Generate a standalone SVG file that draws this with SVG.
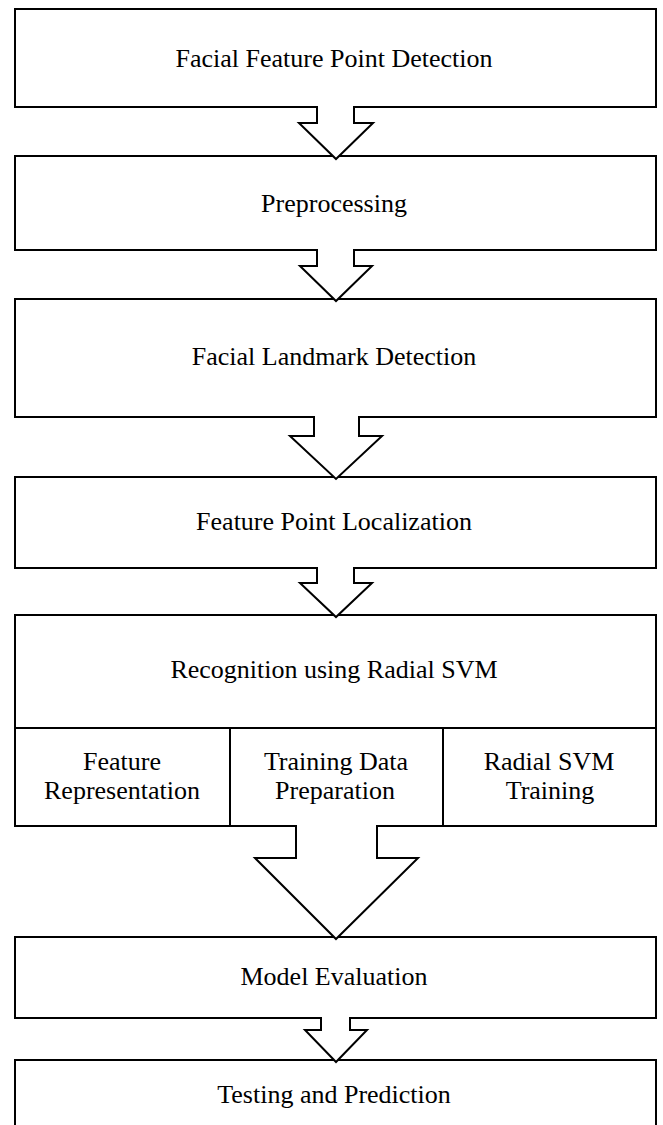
<svg xmlns="http://www.w3.org/2000/svg" width="663" height="1125" viewBox="0 0 663 1125">
<style>
.box{fill:#fff;stroke:#000;stroke-width:2}
.ln{stroke:#000;stroke-width:2;fill:none}
.arr{fill:#fff;stroke:#000;stroke-width:2;stroke-linejoin:miter}
text{font-family:"Liberation Serif","Times New Roman",serif;font-size:26px;fill:#000;text-anchor:middle}
</style>
<rect width="663" height="1125" fill="#fff"/>
<g id="n1"><rect class="box" x="15" y="9" width="641" height="98"/><text x="334" y="67">Facial Feature Point Detection</text></g>
<g id="n2"><rect class="box" x="15" y="156" width="641" height="94"/><text x="334" y="212">Preprocessing</text></g>
<g id="n3"><rect class="box" x="15" y="299" width="641" height="118"/><text x="334" y="365">Facial Landmark Detection</text></g>
<g id="n4"><rect class="box" x="15" y="477" width="641" height="91"/><text x="334" y="530">Feature Point Localization</text></g>
<g id="n5"><rect class="box" x="15" y="615" width="641" height="211"/><line class="ln" x1="15" y1="728" x2="656" y2="728"/><line class="ln" x1="230" y1="728" x2="230" y2="826"/><line class="ln" x1="443" y1="728" x2="443" y2="826"/><text x="334" y="678">Recognition using Radial SVM</text></g>
<g id="n5a"><text x="122" y="770">Feature</text><text x="122" y="799">Representation</text></g>
<g id="n5b"><text x="336" y="770">Training Data</text><text x="335" y="799">Preparation</text></g>
<g id="n5c"><text x="549" y="770">Radial SVM</text><text x="550" y="799">Training</text></g>
<g id="n6"><rect class="box" x="15" y="937" width="641" height="81"/><text x="334" y="985">Model Evaluation</text></g>
<g id="n7"><rect class="box" x="15" y="1060" width="641" height="90"/><text x="334" y="1103">Testing and Prediction</text></g>
<g id="connectors">
<path class="arr" d="M317,106 V123 H299 L336,159 L373,123 H354 V106"/>
<path class="arr" d="M317,249 V266 H300 L336,301 L372,266 H354 V249"/>
<path class="arr" d="M314,416 V436 H290 L336,479 L382,436 H359 V416"/>
<path class="arr" d="M317,567 V583 H300 L336,617 L372,583 H354 V567"/>
<path class="arr" d="M296,825 V858 H255 L336,939 L418,858 H377 V825"/>
<path class="arr" d="M321,1017 V1030 H305 L336,1062 L367,1030 H350 V1017"/>
</g>
</svg>
